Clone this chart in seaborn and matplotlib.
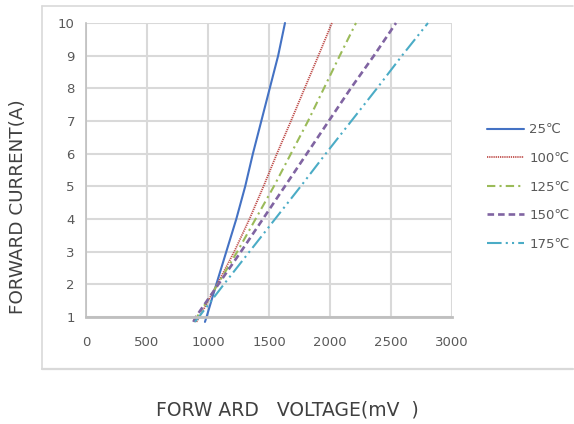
import matplotlib
matplotlib.use("Agg")
import matplotlib.pyplot as plt
import seaborn as sns
import pandas as pd
from matplotlib.lines import Line2D

# ---- data ----
current = [0.85, 1, 2, 3, 4, 5, 6, 7, 8, 9, 10]
v25 = [975, 988, 1068, 1150, 1232, 1305, 1368, 1437, 1506, 1575, 1631]
v100 = [905, 930, 1075, 1215, 1340, 1455, 1565, 1680, 1792, 1905, 2016]
v125 = [890, 910, 1080, 1240, 1390, 1540, 1680, 1820, 1950, 2080, 2213]
v150 = [880, 900, 1085, 1270, 1450, 1630, 1810, 1990, 2170, 2360, 2541]
v175 = [893, 925, 1130, 1340, 1550, 1760, 1965, 2175, 2385, 2590, 2803]
labels = ["25\u2103", "100\u2103", "125\u2103", "150\u2103", "175\u2103"]
xticks = [0, 500, 1000, 1500, 2000, 2500, 3000]
yticks = [1, 2, 3, 4, 5, 6, 7, 8, 9, 10]

colors = ["#4472C4", "#C0504D", "#9BBB59", "#8064A2", "#4BACC6"]
styles = ["-", (0, (0.7, 0.5)), (0, (4, 2, 1, 2)), (0, (2.5, 1.5)), (0, (7, 2, 1, 2, 1, 2))]
widths = [1.5, 1.3, 1.5, 1.9, 1.5]

sns.set_theme(style="white")
plt.rcParams['font.family'] = ['DejaVu Sans']

fig = plt.figure(figsize=(5.74, 4.24), dpi=100)
ax = fig.add_axes([86/574, 1-317/424, (452-86)/574, (317-23)/424])

series = [v25, v100, v125, v150, v175]
for vals, lab, c, ls, lw in zip(series, labels, colors, styles, widths):
    df = pd.DataFrame({"V": vals, "I": current})
    sns.lineplot(data=df, x="V", y="I", ax=ax, color=c, linestyle=ls, linewidth=lw,
                 sort=False, label=lab, clip_on=False, legend=False)

ax.set_xlim(0, 3000)
ax.set_ylim(1, 10)
ax.set_xticks(xticks)
ax.set_yticks(yticks)
ax.grid(True, color="#D9D9D9", linewidth=1.5)
ax.set_axisbelow(True)
for s in ["top", "right"]:
    ax.spines[s].set_visible(False)
ax.spines["left"].set_color("#BFBFBF")
ax.spines["left"].set_linewidth(1.2)
ax.spines["bottom"].set_color("#BFBFBF")
ax.spines["bottom"].set_linewidth(2.0)
ax.tick_params(axis="both", length=0, labelsize=9.5, labelcolor="#595959")
ax.tick_params(axis="x", pad=14)
ax.tick_params(axis="y", pad=8)
ax.set_xlabel("")
ax.set_ylabel("")

fig.text(18/574, 1-207/424, "FORWARD CURRENT(A)", rotation=90, ha="center", va="center",
         fontsize=13.2, color="#404040")
fig.text(287/574, 1-410/424, "FORW ARD   VOLTAGE(mV  )", ha="center", va="center",
         fontsize=13.5, color="#404040")

handles = [Line2D([0], [0], color=c, linestyle=ls, linewidth=lw) for c, ls, lw in zip(colors, styles, widths)]
leg = fig.legend(handles, labels, loc="center left", bbox_to_anchor=(475/574, 1-187/424),
                 frameon=False, fontsize=9.5, handlelength=2.8, labelspacing=1.18,
                 handletextpad=0.4)
for t in leg.get_texts():
    t.set_color("#595959")

# outer frame
fc = "#D9D9D9"
fig.add_artist(Line2D([42/574, 573/574], [1-5.5/424, 1-5.5/424], color=fc, linewidth=1.2, transform=fig.transFigure))
fig.add_artist(Line2D([42/574, 573/574], [1-369/424, 1-369/424], color=fc, linewidth=1.6, transform=fig.transFigure))
fig.add_artist(Line2D([42/574, 42/574], [1-5.5/424, 1-369/424], color=fc, linewidth=1.2, transform=fig.transFigure))

fig.savefig("out.png", dpi=100)
